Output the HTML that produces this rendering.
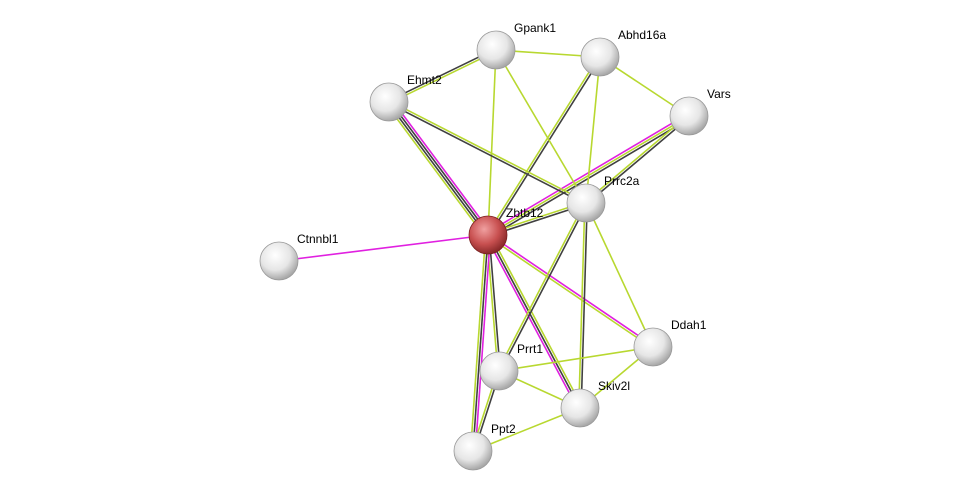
<!DOCTYPE html>
<html><head><meta charset="utf-8"><style>
html,body{margin:0;padding:0;background:#fff;}
svg{display:block;}
text{font-family:"Liberation Sans",sans-serif;font-size:12px;fill:#000;}
</style></head><body>
<svg id="s" width="975" height="497" viewBox="0 0 975 497" xmlns="http://www.w3.org/2000/svg">
<defs>
<radialGradient id="g" cx="40%" cy="35%" r="65%">
<stop offset="0" stop-color="#ffffff"/><stop offset="0.6" stop-color="#e6e6e6"/><stop offset="1" stop-color="#a8a8a8"/></radialGradient>
<radialGradient id="r" cx="40%" cy="35%" r="65%">
<stop offset="0" stop-color="#f0a0a0"/><stop offset="0.6" stop-color="#c85050"/><stop offset="1" stop-color="#8a2a2a"/></radialGradient>
</defs>
<g id="edges"></g><g id="nodes"></g>
</svg>
<script>
var N={Gpank1:[496,50],Abhd16a:[600,57],Ehmt2:[389,102],Vars:[689,116],Prrc2a:[586,203],Zbtb12:[488,235],Ctnnbl1:[279,261],Ddah1:[653,347],Prrt1:[499,371],Skiv2l:[580,408],Ppt2:[473,451]};
var M="#e020e0",K="#404040",Y="#b8d830";
var E=[["Zbtb12","Ctnnbl1",[M]],["Zbtb12","Ehmt2",[Y,K,K,M]],["Zbtb12","Gpank1",[Y]],["Zbtb12","Abhd16a",[Y,K]],["Zbtb12","Vars",[M,Y,K]],["Zbtb12","Prrc2a",[Y,K]],["Zbtb12","Ddah1",[M,Y]],["Zbtb12","Skiv2l",[Y,K,M]],["Zbtb12","Prrt1",[K,Y]],["Zbtb12","Ppt2",[M,K,Y]],["Ehmt2","Gpank1",[K,Y]],["Ehmt2","Prrc2a",[Y,K]],["Gpank1","Abhd16a",[Y]],["Gpank1","Prrc2a",[Y]],["Abhd16a","Vars",[Y]],["Abhd16a","Prrc2a",[Y]],["Vars","Prrc2a",[K,Y]],["Prrc2a","Prrt1",[K,Y]],["Prrc2a","Skiv2l",[K,Y]],["Prrc2a","Ddah1",[Y]],["Prrt1","Ddah1",[Y]],["Prrt1","Skiv2l",[Y]],["Prrt1","Ppt2",[K,Y]],["Skiv2l","Ddah1",[Y]],["Skiv2l","Ppt2",[Y]]];
var ns="http://www.w3.org/2000/svg",eg=document.getElementById("edges"),ng=document.getElementById("nodes");
E.forEach(function(e){var a=N[e[0]],b=N[e[1]],dx=b[0]-a[0],dy=b[1]-a[1],l=Math.hypot(dx,dy),px=-dy/l,py=dx/l,n=e[2].length;
e[2].forEach(function(c,i){var o=(i-(n-1)/2)*2.4;var L=document.createElementNS(ns,"line");
L.setAttribute("x1",a[0]+px*o);L.setAttribute("y1",a[1]+py*o);L.setAttribute("x2",b[0]+px*o);L.setAttribute("y2",b[1]+py*o);
L.setAttribute("stroke",c);L.setAttribute("stroke-width","1.6");eg.appendChild(L);});});
for(var k in N){var p=N[k];var C=document.createElementNS(ns,"circle");C.setAttribute("cx",p[0]);C.setAttribute("cy",p[1]);C.setAttribute("r",19);
C.setAttribute("fill",k=="Zbtb12"?"url(#r)":"url(#g)");C.setAttribute("stroke",k=="Zbtb12"?"#7a2020":"#999");C.setAttribute("stroke-width","0.8");ng.appendChild(C);
var T=document.createElementNS(ns,"text");T.setAttribute("x",p[0]+18);T.setAttribute("y",p[1]-18);T.textContent=k;ng.appendChild(T);}
</script>
</body></html>
